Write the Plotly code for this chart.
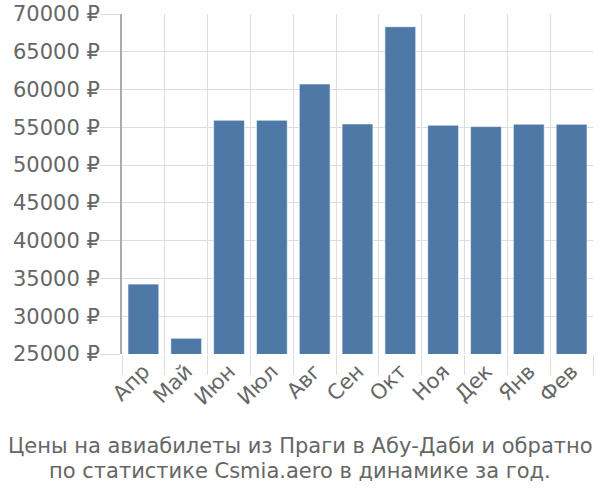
import plotly.graph_objects as go

months = ["Апр", "Май", "Июн", "Июл", "Авг", "Сен", "Окт", "Ноя", "Дек", "Янв", "Фев"]
prices = [34250, 27080, 55940, 55940, 60740, 55450, 68320, 55280, 55100, 55420, 55400]
y_ticks = [25000, 30000, 35000, 40000, 45000, 50000, 55000, 60000, 65000, 70000]
title_lines = ["Цены на авиабилеты из Праги в Абу-Даби и обратно",
               "по статистике Csmia.aero в динамике за год."]

fig = go.Figure()
fig.add_trace(go.Bar(
    x=months, y=prices,
    marker=dict(color="#4e79a7", line=dict(color="rgba(255,255,255,0.6)", width=1)),
))

font_family = "DejaVu Sans, sans-serif"
fs = 21
left, right = 122, 593
top, bottom = 14, 354
ph = bottom - top
pw = right - left
title_centers = [446, 471]
annotations = []
for line, yc in zip(title_lines, title_centers):
    annotations.append(dict(
        text=line, xref="paper", yref="paper",
        x=(300 - left) / pw, xanchor="center",
        y=(bottom - yc) / ph, yanchor="middle",
        showarrow=False,
        font=dict(family=font_family, size=21, color="#666666"),
    ))

fig.update_layout(
    width=600, height=500,
    margin=dict(l=left, r=600 - right, t=top, b=500 - bottom, autoexpand=False),
    plot_bgcolor="white", paper_bgcolor="white",
    bargap=0.28,
    showlegend=False,
    font=dict(family=font_family, color="#666666", size=fs),
    annotations=annotations,
)
fig.update_xaxes(
    type="category",
    tickson="boundaries",
    showgrid=True, gridcolor="#dddddd", gridwidth=1,
    ticks="outside", ticklen=20, tickcolor="#dddddd", tickwidth=1,
    tickangle=-45,
    tickfont=dict(size=fs, color="#666666"),
    showline=False,
    range=[-0.5, len(months) - 0.5],
)
fig.update_yaxes(
    range=[25000, 70000],
    tickvals=y_ticks,
    ticktext=[f"{v} ₽" for v in y_ticks],
    showgrid=True, gridcolor="#dddddd", gridwidth=1,
    ticks="outside", ticklen=20, tickcolor="#dddddd", tickwidth=1,
    ticklabelstandoff=-4,
    tickfont=dict(size=fs, color="#666666"),
    showline=True, linecolor="#aaaaaa", linewidth=2,
    zeroline=False,
)
fig.write_html("out.html", config={"displayModeBar": False},
               post_script="document.body.style.margin='0';document.body.style.overflow='hidden';")
